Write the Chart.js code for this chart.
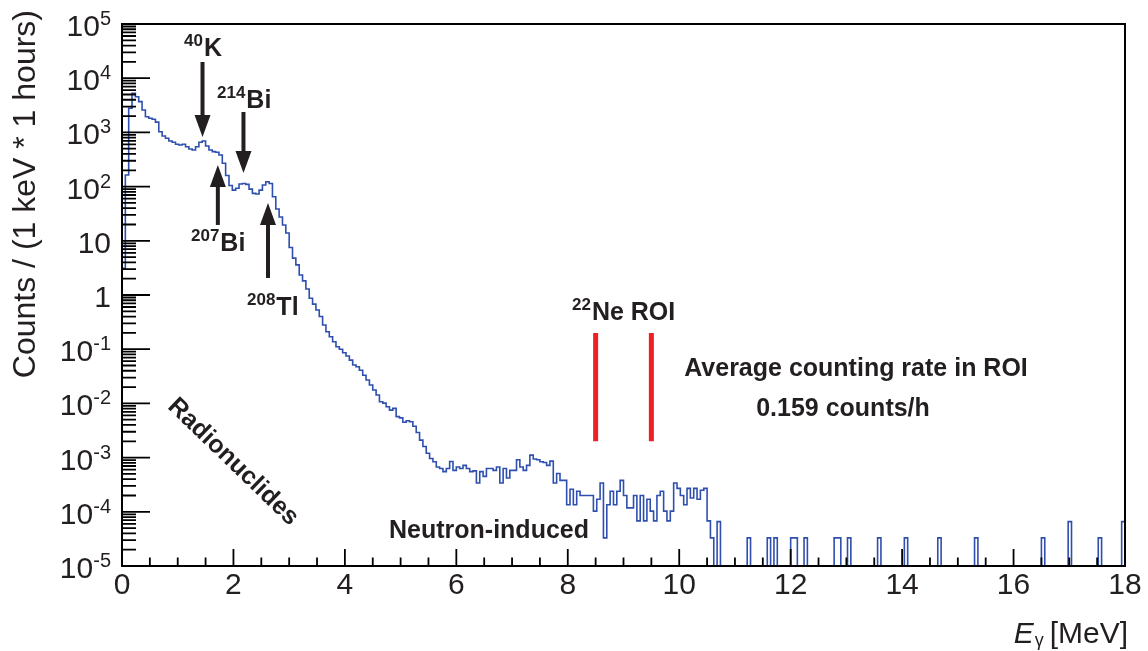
<!DOCTYPE html>
<html>
<head>
<meta charset="utf-8">
<title>Background gamma spectrum</title>
<script src="https://cdn.jsdelivr.net/npm/chart.js@4.4.0/dist/chart.umd.min.js"></script>
<style>
  html, body { margin: 0; padding: 0; background: #fff; }
  #wrap { width: 1148px; height: 651px; }
</style>
</head>
<body>
<div id="wrap"><canvas id="spectrum" width="1148" height="651"></canvas></div>
<script>
// Histogram: 300 bins of 60 keV between 0 and 18 MeV, counts / (1 keV * 1 hours)
const binWidth = 0.06;
const counts = [
  3.1, 164, 2790, 5260, 4560, 3690, 2590, 1950, 1820, 1745,
  1550, 1030, 860, 780, 695, 656, 603, 586, 603, 545,
  494, 473, 545, 656, 695, 560, 473, 441, 430, 383,
  270, 160, 105, 86, 93, 112, 114, 110, 90, 75,
  73, 86, 107, 123, 114, 65, 38.6, 27.5, 19.6, 13.9,
  7.5, 4.8, 3.6, 2.34, 1.82, 1.29, 0.87, 0.68, 0.53, 0.40,
  0.28, 0.21, 0.17, 0.137, 0.111, 0.0995, 0.086, 0.075, 0.063, 0.051,
  0.0475, 0.041, 0.033, 0.027, 0.0218, 0.0177, 0.0143, 0.0107, 0.0101, 0.0087,
  0.0075, 0.0081, 0.0057, 0.0054, 0.0045, 0.0048, 0.0046, 0.0038, 0.0029, 0.0021,
  0.0016, 0.0012, 0.00096, 0.00084, 0.00067, 0.00063, 0.00055, 0.00063, 0.00085, 0.00058,
  0.00067, 0.00063, 0.00072, 0.00063, 0.00055, 0.00057, 0.00034, 0.00055, 0.00045, 0.00063,
  0.00063, 0.00058, 0.00067, 0.00034, 0.00063, 0.00042, 0.00058, 0.00058, 0.00091, 0.00067,
  0.00058, 0.00072, 0.00111, 0.00094, 0.00091, 0.00084, 0.00081, 0.00072, 0.00086, 0.00034,
  0.00051, 0.00038, 0.00038, 0.000135, 0.00026, 0.000135, 0.00024, 0.0002, 0.0002, 0.0002,
  0.0002, 0.000103, 0.00017, 0.00034, 0.000033, 0.000135, 0.00024, 0.000135, 0.00024, 0.00038,
  0.0002, 0.000118, 0.000118, 0.0002, 0.000068, 0.0002, 0.000068, 0.00017, 0.000103, 0.000068,
  0.0002, 0.00024, 0.000103, 0.000068, 0.000103, 0.00034, 0.00027, 0.0002, 0.000135, 0.00027,
  0.00018, 0.00027, 0.00017, 0.00025, 0.00027, 0.000068, 0.000033, 0, 0.000066, 0,
  0, 0, 0, 0, 0, 0, 0, 0.000033, 0, 0,
  0, 0, 0, 0.000033, 0, 0.000033, 0, 0, 0, 0,
  0.000033, 0.000033, 0, 0, 0.000033, 0, 0, 0, 0, 0,
  0, 0, 0, 0.000033, 0.000033, 0, 0, 0.000033, 0, 0,
  0, 0, 0, 0, 0, 0, 0.000033, 0, 0, 0,
  0, 0, 0, 0, 0.000033, 0, 0, 0, 0, 0,
  0, 0, 0, 0, 0.000033, 0, 0, 0, 0, 0,
  0, 0, 0, 0, 0, 0.000033, 0, 0, 0, 0,
  0, 0, 0, 0, 0, 0, 0, 0, 0, 0,
  0, 0, 0, 0, 0, 0.000033, 0, 0, 0, 0,
  0, 0, 0, 0.000066, 0, 0, 0, 0, 0, 0,
  0, 0, 0.000033, 0, 0, 0, 0, 0, 0, 0.000066
];

// 22Ne region of interest (MeV) and the span of its markers
const roiEdges = [8.5, 9.5];
const roiSpan = [0.2, 0.002];

// Axis ticks
const xTickValues = [0, 2, 4, 6, 8, 10, 12, 14, 16, 18];
const yExponents = [-5, -4, -3, -2, -1, 0, 1, 2, 3, 4, 5];

// Arrows to the lines: energy (MeV), tail and tip values
const arrowEnergies = [1.445, 2.18, 1.72, 2.62];
const arrowTails = [19900, 2380, 19.6, 2.06];
const arrowTips = [822, 178, 250, 49.8];

const FONT = '"Liberation Sans", Arial, Helvetica, sans-serif';
const textColor = '#231f20';

// build histogram points (empty bins go below the frame and get clipped)
const histPoints = counts.map((v, i) => ({ x: +(i * binWidth).toFixed(2), y: v > 0 ? v : 1e-7 }));
histPoints.push({ x: 18, y: histPoints[histPoints.length - 1].y });

function drawIsotope(ctx, mass, symbol, left, baseline) {
  ctx.textAlign = 'left';
  ctx.textBaseline = 'alphabetic';
  ctx.font = 'bold 17px ' + FONT;
  ctx.fillText(mass, left, baseline - 10);
  const w = ctx.measureText(mass).width;
  ctx.font = 'bold 25px ' + FONT;
  ctx.fillText(symbol, left + w + 1, baseline);
}

function drawArrow(ctx, x, yTail, yTip) {
  const dir = yTip > yTail ? 1 : -1;
  const head = 22, half = 8;
  ctx.lineWidth = 4;
  ctx.beginPath();
  ctx.moveTo(x, yTail);
  ctx.lineTo(x, yTip - dir * head + dir);
  ctx.stroke();
  ctx.beginPath();
  ctx.moveTo(x, yTip);
  ctx.lineTo(x - half, yTip - dir * head);
  ctx.lineTo(x + half, yTip - dir * head);
  ctx.closePath();
  ctx.fill();
}

const frameAndLabels = {
  id: 'frameAndLabels',
  afterDatasetsDraw(chart) {
    const ctx = chart.ctx;
    const area = chart.chartArea;
    const xs = chart.scales.x, ys = chart.scales.y;
    ctx.save();
    ctx.strokeStyle = '#000';
    ctx.fillStyle = textColor;

    // ticks pointing into the frame
    ctx.lineWidth = 1.8;
    ctx.beginPath();
    for (let e = -5; e < 5; e++) {
      for (let m = 1; m <= 9; m++) {
        const y = ys.getPixelForValue(m * Math.pow(10, e));
        const len = m === 1 ? 28 : 14;
        ctx.moveTo(area.left, y);
        ctx.lineTo(area.left + len, y);
      }
    }
    for (let v = 0; v <= 18; v += 0.5) {
      const x = xs.getPixelForValue(v);
      const len = v % 2 === 0 ? 17 : 8.5;
      ctx.moveTo(x, area.bottom);
      ctx.lineTo(x, area.bottom - len);
    }
    ctx.stroke();

    // frame
    ctx.lineWidth = 2;
    ctx.strokeRect(area.left, area.top, area.right - area.left, area.bottom - area.top);

    // y tick labels 10^n
    yExponents.forEach(e => {
      const y = ys.getPixelForValue(Math.pow(10, e));
      let base = '10', exp = String(e);
      if (e === 0) { base = '1'; exp = ''; }
      if (e === 1) { exp = ''; }
      ctx.textAlign = 'right';
      ctx.textBaseline = 'alphabetic';
      ctx.font = '20px ' + FONT;
      const ew = exp ? ctx.measureText(exp).width : 0;
      if (exp) ctx.fillText(exp, 111, y + 1);
      ctx.font = '30px ' + FONT;
      ctx.fillText(base, 111 - ew, y + 12);
    });

    // axis titles
    ctx.save();
    ctx.translate(35, 10);
    ctx.rotate(-Math.PI / 2);
    ctx.textAlign = 'right';
    ctx.font = '32px ' + FONT;
    ctx.fillText('Counts / (1 keV * 1 hours)', 0, 0);
    ctx.restore();

    ctx.textAlign = 'right';
    ctx.font = '30px ' + FONT;
    ctx.fillText('[MeV]', 1128, 643);
    let right = 1128 - ctx.measureText('[MeV]').width - 6;
    ctx.font = '18px ' + FONT;
    ctx.fillText('\u03b3', right, 646);
    right -= ctx.measureText('\u03b3').width + 1;
    ctx.font = 'italic 30px ' + FONT;
    ctx.fillText('E', right, 643);

    // arrows
    ctx.fillStyle = textColor;
    ctx.strokeStyle = textColor;
    arrowEnergies.forEach((en, i) => {
      drawArrow(ctx, xs.getPixelForValue(en), ys.getPixelForValue(arrowTails[i]), ys.getPixelForValue(arrowTips[i]));
    });

    // isotope labels
    drawIsotope(ctx, '40', 'K', 184, 56);
    drawIsotope(ctx, '214', 'Bi', 217, 108);
    drawIsotope(ctx, '207', 'Bi', 191, 251);
    drawIsotope(ctx, '208', 'Tl', 247, 315);
    drawIsotope(ctx, '22', 'Ne ROI', 572, 320);

    ctx.font = 'bold 25px ' + FONT;
    ctx.textAlign = 'center';
    ctx.fillText('Average counting rate in ROI', 856, 376);
    ctx.fillText('0.159 counts/h', 843, 416);
    ctx.textAlign = 'left';
    ctx.fillText('Neutron-induced', 389, 538);

    ctx.save();
    ctx.translate(233, 462);
    ctx.rotate(44 * Math.PI / 180);
    ctx.textAlign = 'center';
    ctx.textBaseline = 'middle';
    ctx.fillText('Radionuclides', 0, 0);
    ctx.restore();

    ctx.restore();
  }
};

const datasets = [{
  data: histPoints,
  borderColor: '#2e4fae',
  borderWidth: 1.6,
  stepped: true,
  pointRadius: 0,
  fill: false
}];
roiEdges.forEach(e => {
  datasets.push({
    data: [{ x: e, y: roiSpan[0] }, { x: e, y: roiSpan[1] }],
    borderColor: '#ed2024',
    borderWidth: 5,
    pointRadius: 0,
    fill: false
  });
});

new Chart(document.getElementById('spectrum'), {
  type: 'line',
  data: { datasets: datasets },
  options: {
    responsive: false,
    animation: false,
    devicePixelRatio: 1,
    layout: { padding: { top: 24, right: 23, left: 0, bottom: 0 } },
    plugins: {
      legend: { display: false },
      tooltip: { enabled: false }
    },
    scales: {
      x: {
        type: 'linear',
        min: 0,
        max: 18,
        afterBuildTicks: s => { s.ticks = xTickValues.map(v => ({ value: v })); },
        ticks: {
          autoSkip: false,
          maxRotation: 0,
          padding: 2,
          color: textColor,
          font: { family: FONT, size: 30 }
        },
        grid: { display: false, drawTicks: false },
        border: { display: false },
        afterFit: s => { s.height = 85; }
      },
      y: {
        type: 'logarithmic',
        min: 1e-5,
        max: 1e5,
        ticks: { display: false },
        grid: { display: false, drawTicks: false },
        border: { display: false },
        afterFit: s => { s.width = 122; }
      }
    }
  },
  plugins: [frameAndLabels]
});
</script>
</body>
</html>
